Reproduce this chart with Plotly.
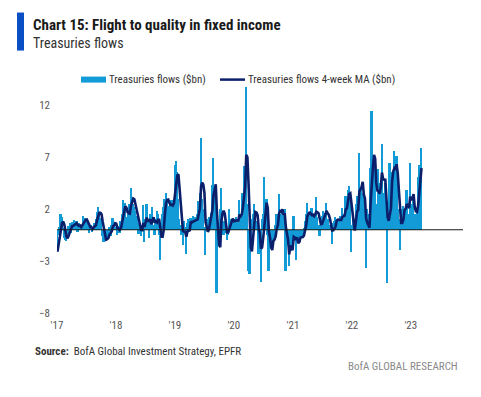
import pandas as pd
import plotly.graph_objects as go

# Weekly Treasuries flows ($bn), one list per year
flows_2017 = [-2.1, -0.5, 0.3, 1.5, 1.2, 0.2, -0.8, -1.0, -1.1, -0.4, 0.4, 0.6, -0.3, 0.7, 0.5, 0.9,
              0.3, 0.8, -0.2, 0.6, 0.4, 0.2, 0.5, 1.3, 1.1, 0.9, 0.6, 0.4, -0.3, 0.3, 0.5, -0.2,
              0.3, 0.6, 1.0, 1.7, 2.2, 1.6, 1.0, 1.1, -0.6, -1.2, -0.9, -1.1, -0.4, -0.8, 0.3, -0.6,
              0.5, 1.1, 0.6, 0.3]
flows_2018 = [0.3, -0.5, 0.4, -0.3, 0.8, 1.5, 2.9, 2.0, 2.6, 1.0, 1.2, 1.5, 2.5, 4.0, 3.0, 2.5,
              2.2, 1.8, 1.3, 0.6, -0.4, 0.3, -0.6, 0.5, 2.4, -1.2, 1.0, 2.5, 0.8, -0.8, 1.5, 0.6,
              2.2, 0.5, -0.5, 1.0, 1.8, 1.5, -0.5, -2.9, -0.8, 1.5, 2.2, 3.0, 3.5, 2.8, 2.3, 1.8,
              2.6, 2.9, 2.0, 2.6]
flows_2019 = [6.2, 6.6, 5.5, 3.0, 1.0, 0.5, -0.5, -1.5, 0.8, 0.3, -2.3, 0.6, 1.0, 0.5, 1.1, 0.2,
              1.3, 0.8, 1.2, 0.5, 1.5, 2.8, 3.5, 8.8, 3.0, 2.0, 0.3, -2.4, 0.3, 1.0, 1.2, 0.4,
              1.6, 4.3, 6.9, 3.5, 2.8, -6.1, -1.0, -1.6, 2.0, 4.0, 1.8, -0.5, 0.8, -0.3, -1.0, -0.5,
              2.0, 0.5, 1.0, 0.8]
flows_2020 = [1.0, 0.6, 1.2, 0.8, 1.0, 2.9, 0.5, 1.5, 3.5, 6.1, 5.5, 13.7, 2.5, -4.0, -4.3, -1.0,
              1.0, 1.5, 2.5, 1.8, 0.8, 0.5, -2.3, -0.5, -5.0, 1.0, 1.5, 5.1, 0.8, 3.0, -0.5, -4.0,
              -1.5, -0.8, -1.5, -0.5, -1.0, 0.5, 1.5, 0.8, 3.4, 1.5, 1.2, 1.8, 1.3, 2.0, -4.0, -0.5,
              -1.5, -3.5, -0.5, -2.0]
flows_2021 = [-1.5, 1.3, -0.8, -2.9, -0.5, -1.0, -0.3, -1.2, -0.5, -0.8, 0.2, 0.8, 1.5, 2.6, 1.2, 1.5,
              0.8, 2.1, 1.4, 0.9, 1.5, 3.1, 1.2, 0.5, -0.6, 1.0, 1.3, 1.8, 1.2, 1.6, 2.6, 1.0,
              0.5, 0.2, 0.4, -1.4, 0.6, 0.8, 1.2, 0.9, 1.0, 0.7, 1.3, 0.8, 2.1, 1.0, 1.5, 3.2,
              2.5, 3.8, 4.2, 3.5]
flows_2022 = [-2.1, 0.5, 1.0, 0.3, 2.5, 3.2, 1.5, 7.4, 3.5, 4.0, 3.5, 2.5, 2.0, -3.7, 2.0, 1.5,
              1.0, 5.9, 11.4, 5.5, 6.0, 4.5, 2.0, 2.5, 5.8, 3.5, 4.5, 8.2, 3.5, 3.0, 4.5, 2.5,
              -5.1, 1.5, 6.4, 5.5, 5.0, 5.5, 7.6, 5.0, 7.1, 2.0, 1.0, -1.9, 1.5, 2.0, 2.3, 1.8,
              2.0, 3.8, 1.5, 1.0]
flows_2023 = [6.4, 2.5, 2.0, 2.8, 1.5, 0.8, 1.8, 5.1, 6.2, 4.5, 7.9]

flows = flows_2017 + flows_2018 + flows_2019 + flows_2020 + flows_2021 + flows_2022 + flows_2023
dates = pd.date_range("2017-01-04", periods=len(flows), freq="7D")
ma4 = pd.Series(flows).rolling(4, min_periods=1).mean()

tick_dates = ["2017-01-01", "2018-01-01", "2019-01-01", "2020-01-01",
              "2021-01-01", "2022-01-01", "2023-01-01"]
tick_text = ["'17", "'18", "'19", "'20", "'21", "'22", "'23"]
y_ticks = [12, 7, 2, -3, -8]

BAR = "#139bd8"
NAVY = "#0b1f6b"
FONT = "Liberation Sans Narrow, Roboto Condensed, DejaVu Sans Condensed, Arial Narrow, sans-serif"

# page has an 8px body margin: figure is placed at (8, 8) in the window
OFF = 8
W, H = 481 - OFF, 397 - OFF
L, R, T, B = 49, 18, 76.4, 83.8
PW, PH = W - L - R, H - T - B


def px(x):  # window pixel -> paper coordinate
    return (x - OFF - L) / PW


def py(y):
    return (H - B - (y - OFF)) / PH


fig = go.Figure()
fig.add_trace(go.Bar(x=dates, y=flows, marker=dict(color=BAR, line=dict(width=0)),
                     width=11 * 86400000, name="Treasuries flows ($bn)", showlegend=False))
fig.add_trace(go.Scatter(x=dates, y=ma4, mode="lines", line=dict(color=NAVY, width=2.6),
                         name="Treasuries flows 4-week MA ($bn)", showlegend=False))

shapes = [
    dict(type="line", xref="paper", yref="y", x0=0, x1=1, y0=0, y1=0,
         line=dict(color="#1a1a1a", width=1.2), layer="above"),
    dict(type="rect", xref="paper", yref="paper", x0=px(17), x1=px(24), y0=py(51), y1=py(13),
         fillcolor="#0a50c4", line=dict(width=0)),
    dict(type="rect", xref="paper", yref="paper", x0=px(81), x1=px(106), y0=py(83), y1=py(77),
         fillcolor=BAR, line=dict(width=0)),
    dict(type="line", xref="paper", yref="paper", x0=px(220), x1=px(245), y0=py(80), y1=py(80),
         line=dict(color=NAVY, width=2.5)),
]

ann = [
    dict(text="<b>Chart 15: Flight to quality in fixed income</b>", x=px(31), y=py(25),
         font=dict(size=15, color="#1a1a1a")),
    dict(text="Treasuries flows", x=px(31), y=py(43), font=dict(size=14, color="#333333")),
    dict(text="Treasuries flows ($bn)", x=px(107), y=py(80), font=dict(size=11, color="#333333")),
    dict(text="Treasuries flows 4-week MA ($bn)", x=px(246), y=py(80),
         font=dict(size=11, color="#333333")),
    dict(text="<b>Source:</b>  BofA Global Investment Strategy, EPFR", x=px(33), y=py(352),
         font=dict(size=11, color="#333333")),
    dict(text="BofA GLOBAL RESEARCH", x=px(460), y=py(367), xanchor="right",
         font=dict(size=11, color="#8a8a8a")),
]
annotations = []
for a in ann:
    d = dict(xref="paper", yref="paper", showarrow=False, xanchor="left", yanchor="middle")
    d.update(a)
    d["font"] = dict(family=FONT, **a["font"])
    annotations.append(d)

fig.update_layout(
    width=W, height=H,
    margin=dict(l=L, r=R, t=T, b=B, pad=0),
    paper_bgcolor="white", plot_bgcolor="white",
    bargap=0,
    showlegend=False,
    font=dict(family=FONT, size=11, color="#555555"),
    shapes=shapes,
    annotations=annotations,
    xaxis=dict(type="date", range=["2017-01-01", "2023-11-20"], tickvals=tick_dates,
               ticktext=tick_text, showgrid=False, zeroline=False, showline=False,
               ticks="", ticklabelstandoff=4, tickfont=dict(size=11, color="#555555")),
    yaxis=dict(range=[-8, 14], tickvals=y_ticks, showgrid=False, zeroline=False,
               showline=False, ticks="", ticklabelstandoff=6,
               tickfont=dict(size=11, color="#555555")),
)

fig.write_html("out.html")
